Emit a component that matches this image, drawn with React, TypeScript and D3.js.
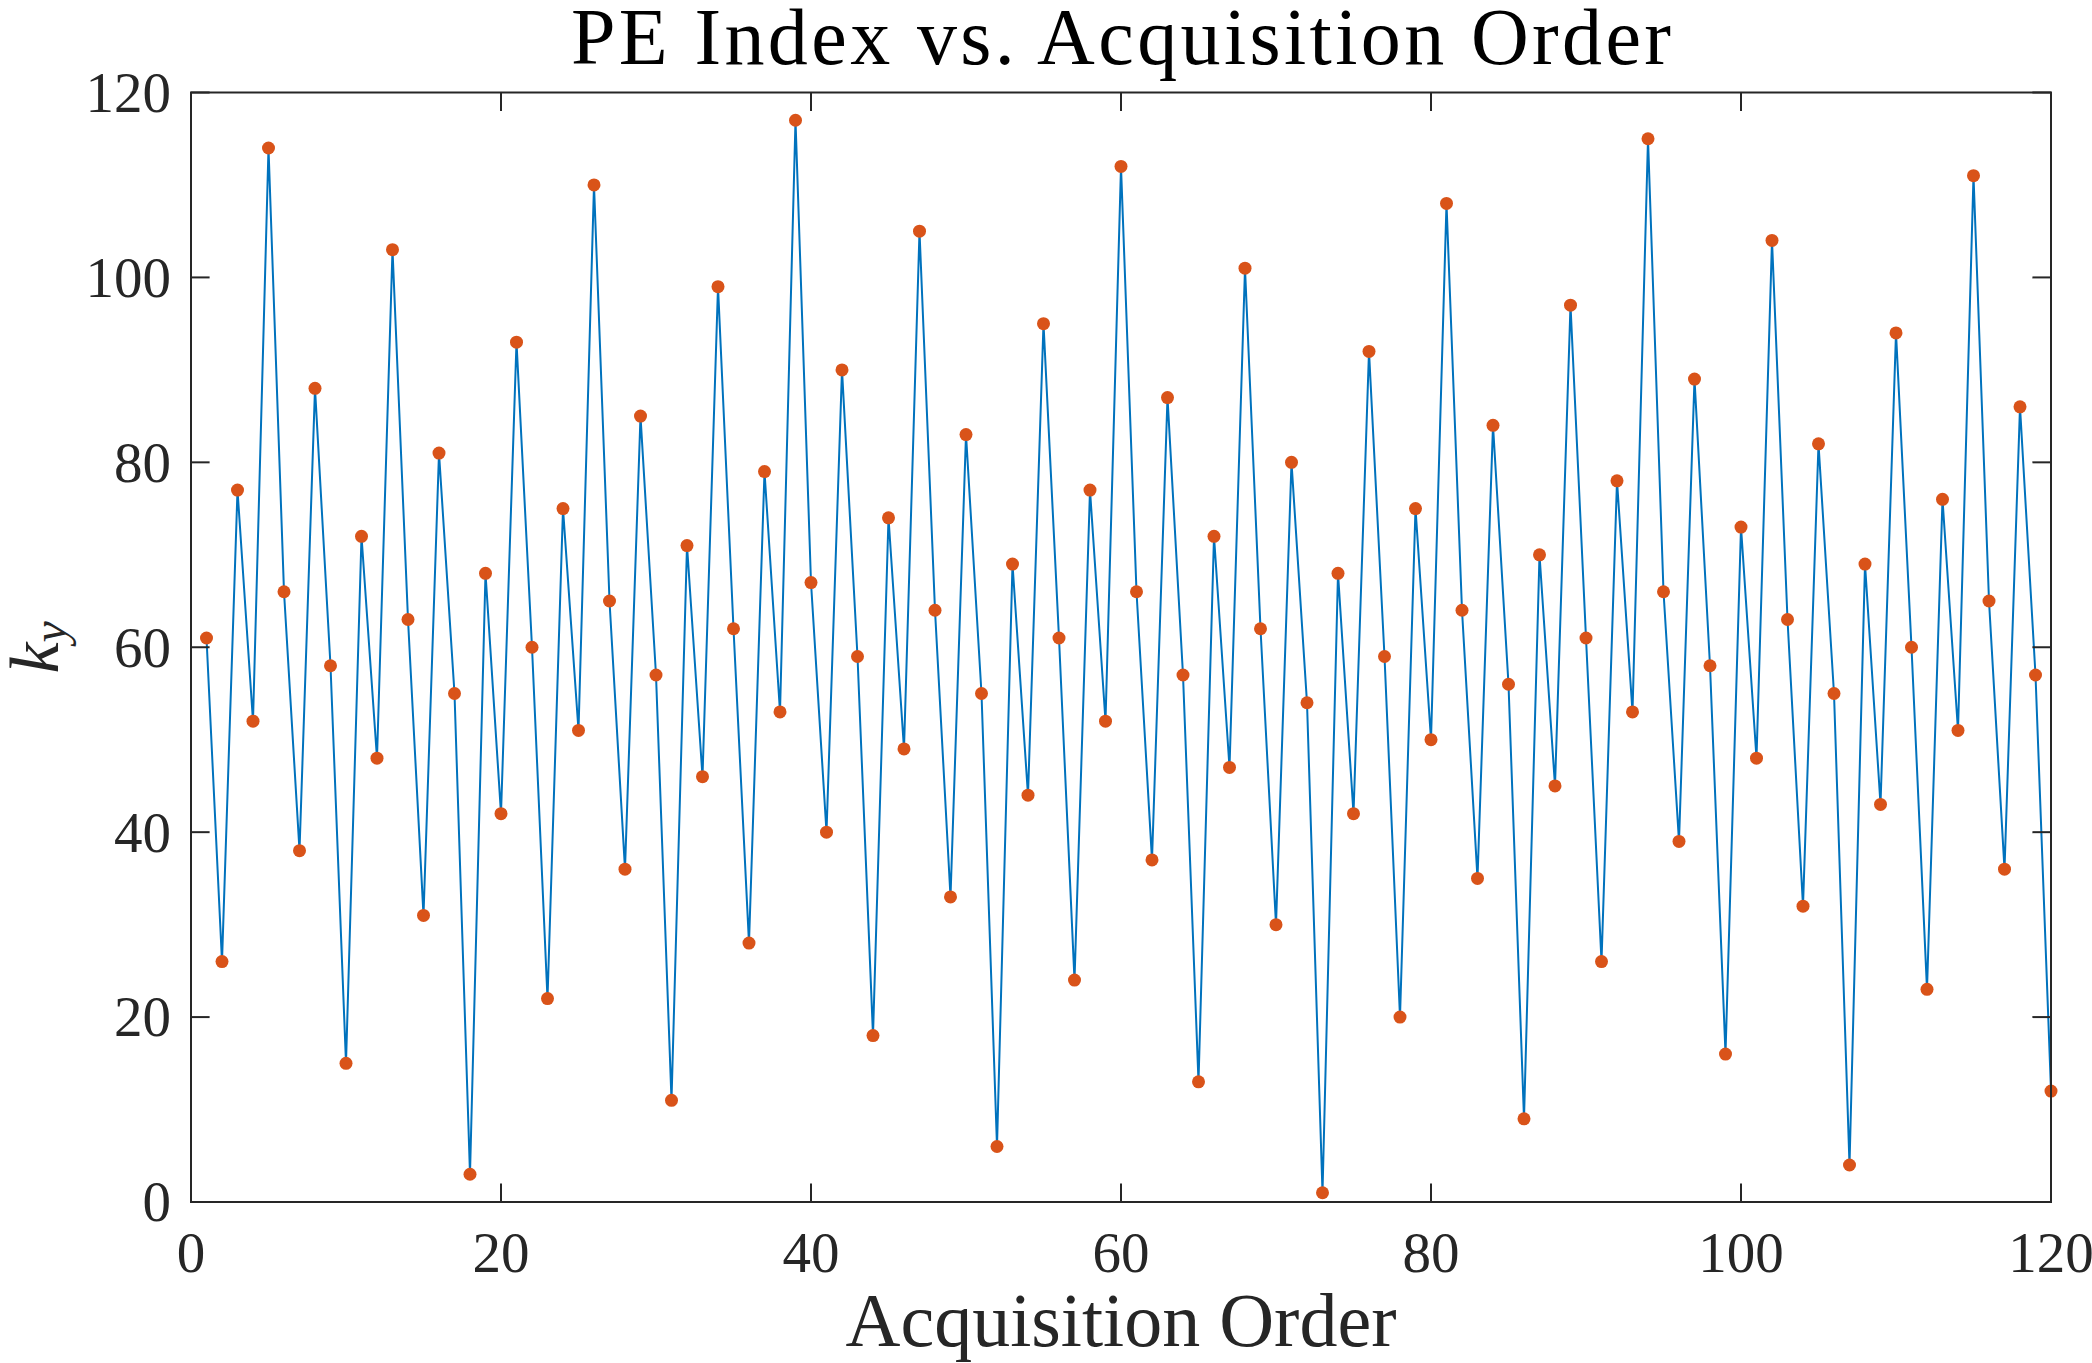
import * as d3 from "d3";

const WIDTH = 2092;
const HEIGHT = 1363;
const MARGIN = { top: 92.5, right: 41, bottom: 161, left: 191 };

const TITLE = "PE Index vs. Acquisition Order";
const X_LABEL = "Acquisition Order";

// k_y value for each acquisition (order = position + 1)
const PE_INDEX = [
    61, 26, 77, 52, 114, 66, 38, 88, 58, 15,
    72, 48, 103, 63, 31, 81, 55, 3, 68, 42,
    93, 60, 22, 75, 51, 110, 65, 36, 85, 57,
    11, 71, 46, 99, 62, 28, 79, 53, 117, 67,
    40, 90, 59, 18, 74, 49, 105, 64, 33, 83,
    55, 6, 69, 44, 95, 61, 24, 77, 52, 112,
    66, 37, 87, 57, 13, 72, 47, 101, 62, 30,
    80, 54, 1, 68, 42, 92, 59, 20, 75, 50,
    108, 64, 35, 84, 56, 9, 70, 45, 97, 61,
    26, 78, 53, 115, 66, 39, 89, 58, 16, 73,
    48, 104, 63, 32, 82, 55, 4, 69, 43, 94,
    60, 23, 76, 51, 111, 65, 36, 86, 57, 12,
];

const X_TICKS = [0, 20, 40, 60, 80, 100, 120];
const Y_TICKS = [0, 20, 40, 60, 80, 100, 120];

const LINE_COLOR = "#0072BD";
const DOT_COLOR = "#D95319";
const AXIS_COLOR = "#262626";
const FONT = "'Liberation Serif', 'Times New Roman', serif";
const TICK_LEN = 18.6;

export default function App() {
    const boundsWidth = WIDTH - MARGIN.left - MARGIN.right;
    const boundsHeight = HEIGHT - MARGIN.top - MARGIN.bottom;

    const xScale = d3.scaleLinear().domain([0, 120]).range([0, boundsWidth]);
    const yScale = d3.scaleLinear().domain([0, 120]).range([boundsHeight, 0]);

    const points = PE_INDEX.map((v, i) => ({ order: i + 1, value: v }));

    const linePath = d3
        .line<{ order: number; value: number }>()
        .x((d) => xScale(d.order))
        .y((d) => yScale(d.value))(points);

    return (
        <svg
            width={WIDTH}
            height={HEIGHT}
            style={{ position: "absolute", left: 0, top: 0, background: "#fff" }}
        >
            <rect width={WIDTH} height={HEIGHT} fill="#fff" />
            <text
                x={MARGIN.left + boundsWidth / 2}
                y={64}
                textAnchor="middle"
                fontFamily={FONT}
                fontSize={80}
                textLength={1100}
                lengthAdjust="spacing"
                fill="#000"
            >
                {TITLE}
            </text>

            <g transform={`translate(${MARGIN.left},${MARGIN.top})`}>
                <path d={linePath ?? ""} fill="none" stroke={LINE_COLOR} strokeWidth={2} />
                {points.map((d) => (
                    <circle
                        key={d.order}
                        cx={xScale(d.order)}
                        cy={yScale(d.value)}
                        r={6.5}
                        fill={DOT_COLOR}
                    />
                ))}

                {/* box + inward ticks on all sides */}
                <rect
                    width={boundsWidth}
                    height={boundsHeight}
                    fill="none"
                    stroke={AXIS_COLOR}
                    strokeWidth={2}
                />
                {X_TICKS.map((t) => (
                    <g key={`x${t}`} stroke={AXIS_COLOR} strokeWidth={2}>
                        <line x1={xScale(t)} x2={xScale(t)} y1={boundsHeight} y2={boundsHeight - TICK_LEN} />
                        <line x1={xScale(t)} x2={xScale(t)} y1={0} y2={TICK_LEN} />
                    </g>
                ))}
                {Y_TICKS.map((t) => (
                    <g key={`y${t}`} stroke={AXIS_COLOR} strokeWidth={2}>
                        <line x1={0} x2={TICK_LEN} y1={yScale(t)} y2={yScale(t)} />
                        <line x1={boundsWidth} x2={boundsWidth - TICK_LEN} y1={yScale(t)} y2={yScale(t)} />
                    </g>
                ))}

                {X_TICKS.map((t) => (
                    <text
                        key={`xl${t}`}
                        x={xScale(t)}
                        y={boundsHeight + 70}
                        textAnchor="middle"
                        fontFamily={FONT}
                        fontSize={57}
                        fill={AXIS_COLOR}
                    >
                        {t}
                    </text>
                ))}
                {Y_TICKS.map((t) => (
                    <text
                        key={`yl${t}`}
                        x={-20}
                        y={yScale(t)}
                        dy="0.34em"
                        textAnchor="end"
                        fontFamily={FONT}
                        fontSize={57}
                        fill={AXIS_COLOR}
                    >
                        {t}
                    </text>
                ))}
            </g>

            <text
                x={MARGIN.left + boundsWidth / 2}
                y={1346}
                textAnchor="middle"
                fontFamily={FONT}
                fontSize={76}
                fill={AXIS_COLOR}
            >
                {X_LABEL}
            </text>

            <text
                transform={`translate(58,${MARGIN.top + boundsHeight / 2}) rotate(-90)`}
                textAnchor="middle"
                fontFamily={FONT}
                fontStyle="italic"
                fontSize={70}
                fill={AXIS_COLOR}
            >
                <tspan>k</tspan>
                <tspan fontSize={48} dy={8}>y</tspan>
            </text>
        </svg>
    );
}
